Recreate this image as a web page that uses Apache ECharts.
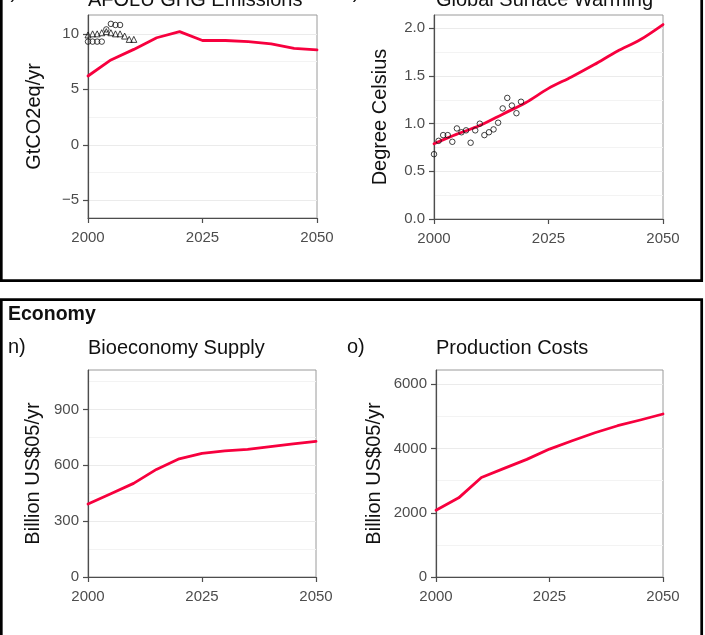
<!DOCTYPE html>
<html>
<head>
<meta charset="utf-8">
<script src="https://cdn.jsdelivr.net/npm/echarts@6/dist/echarts.min.js"></script>
<style>
  html, body { margin: 0; padding: 0; background: #ffffff; }
  #chart { width: 705px; height: 635px; }
</style>
</head>
<body>
<div id="chart"></div>
<script>
// ---- data -------------------------------------------------------------
const modelYears = [2000, 2005, 2010, 2015, 2020, 2025, 2030, 2035, 2040, 2045, 2050];

// AFOLU GHG emissions (GtCO2eq/yr)
const ghgModel = [6.2, 7.65, 8.6, 9.65, 10.2, 9.4, 9.4, 9.3, 9.1, 8.7, 8.55];
const ghgHistYearsA = [2000, 2001, 2002, 2003, 2004, 2005, 2006, 2007, 2008, 2009, 2010];
const ghgHistA = [9.9, 10.0, 10.0, 10.1, 10.2, 10.1, 10.0, 10.0, 9.8, 9.5, 9.5];
const ghgHistYearsB = [2000, 2001, 2002, 2003, 2004, 2005, 2006, 2007];
const ghgHistB = [9.3, 9.3, 9.3, 9.3, 10.4, 10.9, 10.8, 10.8];

// Global surface warming (degree Celsius)
const warmModel = [0.79, 0.89, 0.98, 1.10, 1.22, 1.37, 1.49, 1.62, 1.76, 1.88, 2.04];
const warmHistYears = [2000, 2001, 2002, 2003, 2004, 2005, 2006, 2007, 2008, 2009,
                       2010, 2011, 2012, 2013, 2014, 2015, 2016, 2017, 2018, 2019];
const warmHist = [0.68, 0.82, 0.88, 0.88, 0.81, 0.95, 0.91, 0.93, 0.80, 0.93,
                  1.00, 0.88, 0.91, 0.94, 1.01, 1.16, 1.27, 1.19, 1.11, 1.23];

// Bioeconomy supply and production costs (billion US$05/yr)
const bioSupply = [392, 447, 503, 578, 635, 664, 677, 686, 700, 715, 729];
const prodCosts = [2080, 2465, 3100, 3382, 3663, 3984, 4243, 4493, 4711, 4889, 5076];

// axis ticks
const xTicks = [2000, 2025, 2050];
const ghgTicks = [-5, 0, 5, 10];
const warmTicks = [0, 0.5, 1.0, 1.5, 2.0];
const bioTicks = [0, 300, 600, 900];
const costTicks = [0, 2000, 4000, 6000];

// ---- styling ----------------------------------------------------------
const FONT = '"Liberation Sans", Arial, Helvetica, sans-serif';
const RED = '#f7003e';
const AXIS = '#4d4d4d';

const pair = (xs, ys) => xs.map((x, i) => [x, ys[i]]);

const grids = [
  { left: 88,  top: 15,  width: 229, height: 203 },
  { left: 434, top: 15,  width: 229, height: 204 },
  { left: 88,  top: 370, width: 228, height: 207 },
  { left: 436, top: 370, width: 227, height: 207 }
].map(g => Object.assign({ show: true, borderColor: '#9a9a9a', borderWidth: 1, backgroundColor: '#ffffff' }, g));

function xAxisFor(i) {
  return {
    type: 'value', gridIndex: i, min: 2000, max: 2050, interval: 25,
    axisLine: { show: true, onZero: false, lineStyle: { color: AXIS, width: 1.2 } },
    axisTick: { show: true, length: 5, lineStyle: { color: AXIS, width: 1.2 } },
    axisLabel: { color: AXIS, fontFamily: FONT, fontSize: 15, margin: 12,
                 customValues: xTicks, formatter: v => String(v) },
    splitLine: { show: false }
  };
}

function yAxisFor(i, min, max, ticks, fmt, extra) {
  return Object.assign({
    type: 'value', gridIndex: i, min: min, max: max,
    axisLine: { show: true, onZero: false, lineStyle: { color: AXIS, width: 1.2 } },
    axisTick: { show: true, length: 5, customValues: ticks, lineStyle: { color: AXIS, width: 1.2 } },
    axisLabel: { color: AXIS, fontFamily: FONT, fontSize: 15, margin: 9,
                 customValues: ticks, formatter: fmt },
    splitLine: { show: true, lineStyle: { color: '#ebebeb', width: 1 } },
    minorTick: { show: false, splitNumber: 2 },
    minorSplitLine: { show: true, lineStyle: { color: '#f3f3f3', width: 1 } }
  }, extra || {});
}

const minus = v => String(v).replace('-', '\u2212');

const yAxes = [
  yAxisFor(0, -6.6, 11.7, ghgTicks, minus, { splitNumber: 4 }),
  yAxisFor(1, 0, 2.14, warmTicks, v => v.toFixed(1), { interval: 0.5 }),
  yAxisFor(2, 0, 1112, bioTicks, v => String(v), { interval: 300 }),
  yAxisFor(3, 0, 6446, costTicks, v => String(v), { interval: 2000 })
];

function modelLine(i, values, smooth) {
  return {
    type: 'line', xAxisIndex: i, yAxisIndex: i, data: pair(modelYears, values),
    showSymbol: false, smooth: smooth || false, z: 3,
    lineStyle: { color: RED, width: 2.8, cap: 'round', join: 'round' }
  };
}

function histPoints(i, xs, ys, symbol, size) {
  return {
    type: 'scatter', xAxisIndex: i, yAxisIndex: i, data: pair(xs, ys),
    symbol: symbol, symbolSize: size, z: 4,
    itemStyle: { color: 'rgba(255,255,255,0)', borderColor: '#111111', borderWidth: 1 }
  };
}

// ---- text and frames --------------------------------------------------
function txt(text, x, y, size, opts) {
  return Object.assign({
    type: 'text', x: x, y: y, z: 10,
    style: Object.assign({ text: text, font: size + 'px ' + FONT, fill: '#111111',
                           align: 'left', verticalAlign: 'middle' }, (opts && opts.style) || {})
  }, (opts && opts.el) || {});
}

function vTitle(text, x, y) {
  return txt(text, x, y, 20, { style: { align: 'center' }, el: { rotation: Math.PI / 2 } });
}

const graphics = [
  // section frames
  { type: 'rect', z: 1, shape: { x: 1.3, y: -40, width: 700.4, height: 320.7 },
    style: { fill: 'none', stroke: '#000000', lineWidth: 2.7 } },
  { type: 'rect', z: 1, shape: { x: 1.3, y: 299.7, width: 700.4, height: 400 },
    style: { fill: 'none', stroke: '#000000', lineWidth: 2.7 } },

  // upper row headings
  txt('l)', 6, -8, 20),
  txt('m)', 336, -8, 20),
  txt('AFOLU GHG Emissions', 88, 0, 20),
  txt('Global Surface Warming', 436, 0, 20),

  // section header and lower row headings
  txt('Economy', 8, 315, 19, { style: { font: 'bold 19.5px ' + FONT } }),
  txt('n)', 8, 347, 20),
  txt('o)', 347, 347, 20),
  txt('Bioeconomy Supply', 88, 348, 20),
  txt('Production Costs', 436, 348, 20),

  // y axis titles
  vTitle('GtCO2eq/yr', 34, 116.5),
  vTitle('Degree Celsius', 380, 117),
  vTitle('Billion US$05/yr', 33, 473.5),
  vTitle('Billion US$05/yr', 374, 473.5)
];

const chart = echarts.init(document.getElementById('chart'), null, { renderer: 'canvas' });
chart.setOption({
  animation: false,
  backgroundColor: '#ffffff',
  grid: grids,
  xAxis: [0, 1, 2, 3].map(xAxisFor),
  yAxis: yAxes,
  series: [
    modelLine(0, ghgModel),
    histPoints(0, ghgHistYearsA, ghgHistA, 'triangle', 6),
    histPoints(0, ghgHistYearsB, ghgHistB, 'circle', 5.5),
    modelLine(1, warmModel, 0.3),
    histPoints(1, warmHistYears, warmHist, 'circle', 5.5),
    modelLine(2, bioSupply),
    modelLine(3, prodCosts)
  ],
  graphic: graphics
});
</script>
</body>
</html>
